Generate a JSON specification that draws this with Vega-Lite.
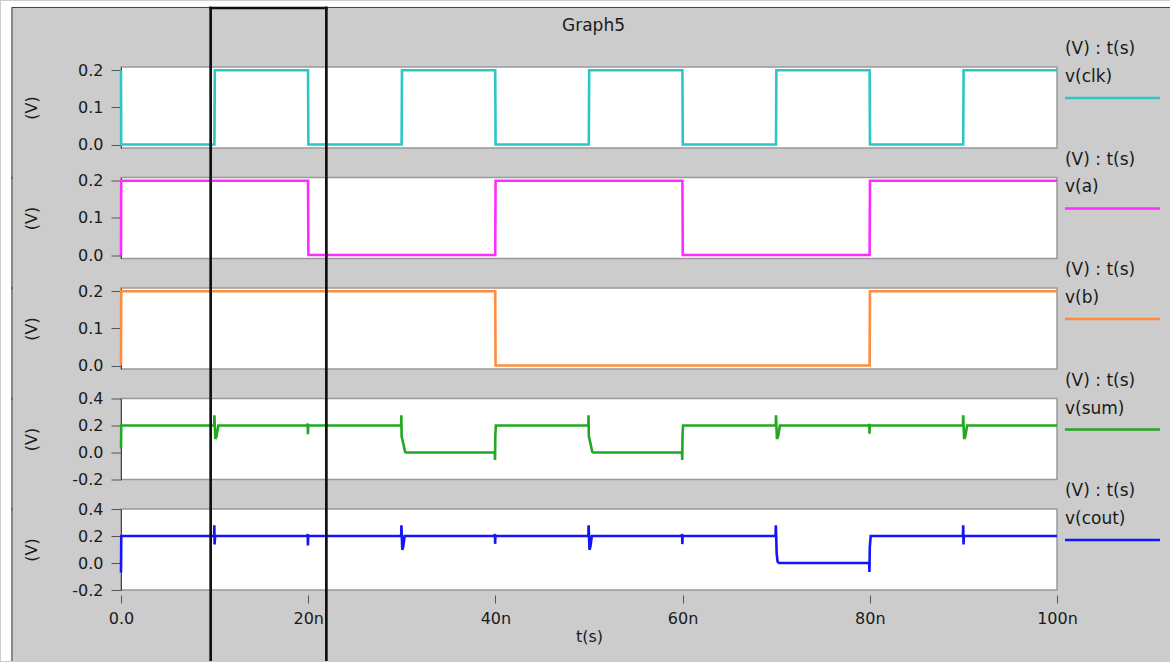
{
  "$schema": "https://vega.github.io/schema/vega-lite/v6.json",
  "background": "#cccccc",
  "padding": 0,
  "spacing": 29.5,
  "bounds": "flush",
  "datasets": {
    "sig": [
      {"s":"clk","t":0,"v":0.2},{"s":"clk","t":0.02,"v":0},{"s":"clk","t":9.98,"v":0},{"s":"clk","t":10.02,"v":0.2},{"s":"clk","t":19.98,"v":0.2},{"s":"clk","t":20.02,"v":0},{"s":"clk","t":29.98,"v":0},{"s":"clk","t":30.02,"v":0.2},{"s":"clk","t":39.98,"v":0.2},{"s":"clk","t":40.02,"v":0},{"s":"clk","t":49.98,"v":0},{"s":"clk","t":50.02,"v":0.2},{"s":"clk","t":59.98,"v":0.2},{"s":"clk","t":60.02,"v":0},{"s":"clk","t":69.98,"v":0},{"s":"clk","t":70.02,"v":0.2},{"s":"clk","t":79.98,"v":0.2},{"s":"clk","t":80.02,"v":0},{"s":"clk","t":89.98,"v":0},{"s":"clk","t":90.02,"v":0.2},{"s":"clk","t":100,"v":0.2},
      {"s":"a","t":0,"v":0},{"s":"a","t":0.02,"v":0.2},{"s":"a","t":19.98,"v":0.2},{"s":"a","t":20.02,"v":0},{"s":"a","t":39.98,"v":0},{"s":"a","t":40.02,"v":0.2},{"s":"a","t":59.98,"v":0.2},{"s":"a","t":60.02,"v":0},{"s":"a","t":79.98,"v":0},{"s":"a","t":80.02,"v":0.2},{"s":"a","t":100,"v":0.2},
      {"s":"b","t":0,"v":0},{"s":"b","t":0.02,"v":0.2},{"s":"b","t":39.98,"v":0.2},{"s":"b","t":40.02,"v":0},{"s":"b","t":79.98,"v":0},{"s":"b","t":80.02,"v":0.2},{"s":"b","t":100,"v":0.2},
      {"s":"sum","t":0,"v":0.03},{"s":"sum","t":0.03,"v":0.2},
      {"s":"sum","t":9.95,"v":0.2},{"s":"sum","t":9.98,"v":0.275},{"s":"sum","t":10.02,"v":0.2},{"s":"sum","t":10.08,"v":0.1},{"s":"sum","t":10.2,"v":0.12},{"s":"sum","t":10.4,"v":0.2},
      {"s":"sum","t":19.93,"v":0.2},{"s":"sum","t":19.95,"v":0.215},{"s":"sum","t":19.97,"v":0.135},{"s":"sum","t":20.0,"v":0.2},
      {"s":"sum","t":29.93,"v":0.2},{"s":"sum","t":29.95,"v":0.276},{"s":"sum","t":29.98,"v":0.12},{"s":"sum","t":30.05,"v":0.1},{"s":"sum","t":30.35,"v":0.005},{"s":"sum","t":30.45,"v":0},
      {"s":"sum","t":39.93,"v":0},{"s":"sum","t":39.96,"v":-0.056},{"s":"sum","t":39.99,"v":0.12},{"s":"sum","t":40.05,"v":0.2},
      {"s":"sum","t":49.93,"v":0.2},{"s":"sum","t":49.95,"v":0.276},{"s":"sum","t":49.98,"v":0.12},{"s":"sum","t":50.05,"v":0.1},{"s":"sum","t":50.35,"v":0.005},{"s":"sum","t":50.45,"v":0},
      {"s":"sum","t":59.93,"v":0},{"s":"sum","t":59.96,"v":-0.056},{"s":"sum","t":59.99,"v":0.12},{"s":"sum","t":60.05,"v":0.2},
      {"s":"sum","t":69.95,"v":0.2},{"s":"sum","t":69.98,"v":0.276},{"s":"sum","t":70.02,"v":0.2},{"s":"sum","t":70.08,"v":0.1},{"s":"sum","t":70.2,"v":0.12},{"s":"sum","t":70.4,"v":0.2},
      {"s":"sum","t":79.93,"v":0.2},{"s":"sum","t":79.95,"v":0.212},{"s":"sum","t":79.97,"v":0.14},{"s":"sum","t":80.0,"v":0.2},
      {"s":"sum","t":89.95,"v":0.2},{"s":"sum","t":89.98,"v":0.276},{"s":"sum","t":90.02,"v":0.2},{"s":"sum","t":90.08,"v":0.1},{"s":"sum","t":90.2,"v":0.12},{"s":"sum","t":90.4,"v":0.2},
      {"s":"sum","t":100,"v":0.2},
      {"s":"cout","t":0,"v":-0.07},{"s":"cout","t":0.03,"v":0.2},
      {"s":"cout","t":9.95,"v":0.2},{"s":"cout","t":9.97,"v":0.28},{"s":"cout","t":10.0,"v":0.137},{"s":"cout","t":10.05,"v":0.2},
      {"s":"cout","t":19.93,"v":0.2},{"s":"cout","t":19.95,"v":0.215},{"s":"cout","t":19.97,"v":0.13},{"s":"cout","t":20.0,"v":0.2},
      {"s":"cout","t":29.93,"v":0.2},{"s":"cout","t":29.96,"v":0.28},{"s":"cout","t":30.0,"v":0.2},{"s":"cout","t":30.05,"v":0.098},{"s":"cout","t":30.15,"v":0.12},{"s":"cout","t":30.3,"v":0.2},
      {"s":"cout","t":39.93,"v":0.2},{"s":"cout","t":39.95,"v":0.215},{"s":"cout","t":39.97,"v":0.142},{"s":"cout","t":40.0,"v":0.2},
      {"s":"cout","t":49.93,"v":0.2},{"s":"cout","t":49.96,"v":0.28},{"s":"cout","t":50.0,"v":0.2},{"s":"cout","t":50.05,"v":0.098},{"s":"cout","t":50.15,"v":0.12},{"s":"cout","t":50.3,"v":0.2},
      {"s":"cout","t":59.93,"v":0.2},{"s":"cout","t":59.95,"v":0.215},{"s":"cout","t":59.97,"v":0.14},{"s":"cout","t":60.0,"v":0.2},
      {"s":"cout","t":69.93,"v":0.2},{"s":"cout","t":69.96,"v":0.28},{"s":"cout","t":70.0,"v":0.2},{"s":"cout","t":70.05,"v":0.07},{"s":"cout","t":70.15,"v":0.01},{"s":"cout","t":70.3,"v":0},
      {"s":"cout","t":79.93,"v":0},{"s":"cout","t":79.96,"v":-0.066},{"s":"cout","t":80.0,"v":0.12},{"s":"cout","t":80.1,"v":0.2},
      {"s":"cout","t":89.95,"v":0.2},{"s":"cout","t":89.98,"v":0.28},{"s":"cout","t":90.01,"v":0.137},{"s":"cout","t":90.05,"v":0.2},
      {"s":"cout","t":100,"v":0.2}
    ],
    "cur": [{"t":9.58},{"t":21.94}]
  },
  "vconcat": [
    {
      "width": 936, "height": 81,
      "resolve": {"axis": {"x": "independent", "y": "independent"}},
      "layer": [
        {"data":{"name":"sig"},"transform":[{"filter":"datum.s==='clk'"}],
         "mark":{"type":"line","color":"#2cc6c6","strokeWidth":2.6},
         "encoding":{"x":{"field":"t","type":"quantitative","scale":{"domain":[0,100],"nice":false,"zero":false},"axis":null},
                     "y":{"field":"v","type":"quantitative","scale":{"domain":[-0.0094,0.2089],"nice":false,"zero":false},"axis":{"values":[0,0.1,0.2],"title":"(V)","labelExpr":"replace(format(datum.value,'.1f'),'\u2212','-')"}}}},
        {"data":{"values":[{}]},"mark":{"type":"text","align":"left","baseline":"middle"},
         "encoding":{"x":{"datum":100.85,"type":"quantitative","axis":null},"y":{"datum":0.2574,"type":"quantitative","axis":null},"text":{"value":"(V) : t(s)"}}},
        {"data":{"values":[{}]},"mark":{"type":"text","align":"left","baseline":"middle"},
         "encoding":{"x":{"datum":100.85,"type":"quantitative","axis":null},"y":{"datum":0.182,"type":"quantitative","axis":null},"text":{"value":"v(clk)"}}},
        {"data":{"values":[{}]},"mark":{"type":"rule","color":"#2cc6c6","strokeWidth":2.5},
         "encoding":{"x":{"datum":100.85,"type":"quantitative","axis":null},"x2":{"datum":111.0},"y":{"datum":0.1253,"type":"quantitative","axis":null}}},
        {"data":{"values":[{}]},"mark":{"type":"rect","color":"white"},
         "encoding":{"x":{"datum":-12.82,"type":"quantitative","axis":null},"x2":{"datum":-11.76},"y":{"datum":0.3868,"type":"quantitative","axis":null},"y2":{"datum":-0.093}}},
        {"data":{"values":[{}]},"mark":{"type":"rect","color":"white"},
         "encoding":{"x":{"datum":-12.82,"type":"quantitative","axis":null},"x2":{"datum":112.15},"y":{"datum":0.3868,"type":"quantitative","axis":null},"y2":{"datum":0.3707}}},
        {"data":{"values":[{}]},"mark":{"type":"rule","color":"#444444","strokeWidth":1},
         "encoding":{"x":{"datum":-11.645,"type":"quantitative","axis":null},"y":{"datum":0.3693,"type":"quantitative","axis":null},"y2":{"datum":-0.093}}},
        {"data":{"values":[{}]},"mark":{"type":"rule","color":"#444444","strokeWidth":1},
         "encoding":{"x":{"datum":-11.645,"type":"quantitative","axis":null},"x2":{"datum":112.1},"y":{"datum":0.3693,"type":"quantitative","axis":null}}},
        {"data":{"values":[{}]},"mark":{"type":"text","align":"center","baseline":"middle"},
         "encoding":{"x":{"datum":50.48,"type":"quantitative","axis":null},"y":{"datum":0.3186,"type":"quantitative","axis":null},"text":{"value":"Graph5"}}},
        {"data":{"name":"cur"},"mark":{"type":"rule","color":"#111111","strokeWidth":2.7,"strokeCap":"square"},
         "encoding":{"x":{"field":"t","type":"quantitative","axis":null},"y":{"datum":0.3679,"type":"quantitative","axis":null},"y2":{"datum":-0.093}}},
        {"data":{"values":[{}]},"mark":{"type":"rule","color":"#111111","strokeWidth":2.7,"strokeCap":"square"},
         "encoding":{"x":{"datum":9.58,"type":"quantitative","axis":null},"x2":{"datum":21.94},"y":{"datum":0.3679,"type":"quantitative","axis":null}}}
      ]
    },
    {
      "width": 936, "height": 81,
      "resolve": {"axis": {"x": "independent", "y": "independent"}},
      "layer": [
        {"data":{"name":"sig"},"transform":[{"filter":"datum.s==='a'"}],
         "mark":{"type":"line","color":"#ff2cff","strokeWidth":2.6},
         "encoding":{"x":{"field":"t","type":"quantitative","scale":{"domain":[0,100],"nice":false,"zero":false},"axis":null},
                     "y":{"field":"v","type":"quantitative","scale":{"domain":[-0.0094,0.2089],"nice":false,"zero":false},"axis":{"values":[0,0.1,0.2],"title":"(V)","labelExpr":"replace(format(datum.value,'.1f'),'\u2212','-')"}}}},
        {"data":{"values":[{}]},"mark":{"type":"text","align":"left","baseline":"middle"},
         "encoding":{"x":{"datum":100.85,"type":"quantitative","axis":null},"y":{"datum":0.2574,"type":"quantitative","axis":null},"text":{"value":"(V) : t(s)"}}},
        {"data":{"values":[{}]},"mark":{"type":"text","align":"left","baseline":"middle"},
         "encoding":{"x":{"datum":100.85,"type":"quantitative","axis":null},"y":{"datum":0.182,"type":"quantitative","axis":null},"text":{"value":"v(a)"}}},
        {"data":{"values":[{}]},"mark":{"type":"rule","color":"#ff2cff","strokeWidth":2.5},
         "encoding":{"x":{"datum":100.85,"type":"quantitative","axis":null},"x2":{"datum":111.0},"y":{"datum":0.1253,"type":"quantitative","axis":null}}},
        {"data":{"values":[{}]},"mark":{"type":"rect","color":"white"},
         "encoding":{"x":{"datum":-12.82,"type":"quantitative","axis":null},"x2":{"datum":-11.76},"y":{"datum":0.2116,"type":"quantitative","axis":null},"y2":{"datum":-0.093}}},
        {"data":{"values":[{}]},"mark":{"type":"rule","color":"#444444","strokeWidth":1},
         "encoding":{"x":{"datum":-11.645,"type":"quantitative","axis":null},"y":{"datum":0.2116,"type":"quantitative","axis":null},"y2":{"datum":-0.093}}},
        {"data":{"name":"cur"},"mark":{"type":"rule","color":"#111111","strokeWidth":2.7},
         "encoding":{"x":{"field":"t","type":"quantitative","axis":null},"y":{"datum":0.2116,"type":"quantitative","axis":null},"y2":{"datum":-0.093}}}
      ]
    },
    {
      "width": 936, "height": 81,
      "resolve": {"axis": {"x": "independent", "y": "independent"}},
      "layer": [
        {"data":{"name":"sig"},"transform":[{"filter":"datum.s==='b'"}],
         "mark":{"type":"line","color":"#ff8c3c","strokeWidth":2.6},
         "encoding":{"x":{"field":"t","type":"quantitative","scale":{"domain":[0,100],"nice":false,"zero":false},"axis":null},
                     "y":{"field":"v","type":"quantitative","scale":{"domain":[-0.0094,0.2089],"nice":false,"zero":false},"axis":{"values":[0,0.1,0.2],"title":"(V)","labelExpr":"replace(format(datum.value,'.1f'),'\u2212','-')"}}}},
        {"data":{"values":[{}]},"mark":{"type":"text","align":"left","baseline":"middle"},
         "encoding":{"x":{"datum":100.85,"type":"quantitative","axis":null},"y":{"datum":0.2574,"type":"quantitative","axis":null},"text":{"value":"(V) : t(s)"}}},
        {"data":{"values":[{}]},"mark":{"type":"text","align":"left","baseline":"middle"},
         "encoding":{"x":{"datum":100.85,"type":"quantitative","axis":null},"y":{"datum":0.182,"type":"quantitative","axis":null},"text":{"value":"v(b)"}}},
        {"data":{"values":[{}]},"mark":{"type":"rule","color":"#ff8c3c","strokeWidth":2.5},
         "encoding":{"x":{"datum":100.85,"type":"quantitative","axis":null},"x2":{"datum":111.0},"y":{"datum":0.1253,"type":"quantitative","axis":null}}},
        {"data":{"values":[{}]},"mark":{"type":"rect","color":"white"},
         "encoding":{"x":{"datum":-12.82,"type":"quantitative","axis":null},"x2":{"datum":-11.76},"y":{"datum":0.2116,"type":"quantitative","axis":null},"y2":{"datum":-0.093}}},
        {"data":{"values":[{}]},"mark":{"type":"rule","color":"#444444","strokeWidth":1},
         "encoding":{"x":{"datum":-11.645,"type":"quantitative","axis":null},"y":{"datum":0.2116,"type":"quantitative","axis":null},"y2":{"datum":-0.093}}},
        {"data":{"name":"cur"},"mark":{"type":"rule","color":"#111111","strokeWidth":2.7},
         "encoding":{"x":{"field":"t","type":"quantitative","axis":null},"y":{"datum":0.2116,"type":"quantitative","axis":null},"y2":{"datum":-0.093}}}
      ]
    },
    {
      "width": 936, "height": 81,
      "resolve": {"axis": {"x": "independent", "y": "independent"}},
      "layer": [
        {"data":{"name":"sig"},"transform":[{"filter":"datum.s==='sum'"}],
         "mark":{"type":"line","color":"#22a822","strokeWidth":2.6},
         "encoding":{"x":{"field":"t","type":"quantitative","scale":{"domain":[0,100],"nice":false,"zero":false},"axis":null},
                     "y":{"field":"v","type":"quantitative","scale":{"domain":[-0.2,0.4],"nice":false,"zero":false},"axis":{"values":[-0.2,0,0.2,0.4],"title":"(V)","labelExpr":"replace(format(datum.value,'.1f'),'\u2212','-')"}}}},
        {"data":{"values":[{}]},"mark":{"type":"text","align":"left","baseline":"middle"},
         "encoding":{"x":{"datum":100.85,"type":"quantitative","axis":null},"y":{"datum":0.5333,"type":"quantitative","axis":null},"text":{"value":"(V) : t(s)"}}},
        {"data":{"values":[{}]},"mark":{"type":"text","align":"left","baseline":"middle"},
         "encoding":{"x":{"datum":100.85,"type":"quantitative","axis":null},"y":{"datum":0.3259,"type":"quantitative","axis":null},"text":{"value":"v(sum)"}}},
        {"data":{"values":[{}]},"mark":{"type":"rule","color":"#22a822","strokeWidth":2.5},
         "encoding":{"x":{"datum":100.85,"type":"quantitative","axis":null},"x2":{"datum":111.0},"y":{"datum":0.1704,"type":"quantitative","axis":null}}},
        {"data":{"values":[{}]},"mark":{"type":"rect","color":"white"},
         "encoding":{"x":{"datum":-12.82,"type":"quantitative","axis":null},"x2":{"datum":-11.76},"y":{"datum":0.4074,"type":"quantitative","axis":null},"y2":{"datum":-0.4296}}},
        {"data":{"values":[{}]},"mark":{"type":"rule","color":"#444444","strokeWidth":1},
         "encoding":{"x":{"datum":-11.645,"type":"quantitative","axis":null},"y":{"datum":0.4074,"type":"quantitative","axis":null},"y2":{"datum":-0.4296}}},
        {"data":{"name":"cur"},"mark":{"type":"rule","color":"#111111","strokeWidth":2.7},
         "encoding":{"x":{"field":"t","type":"quantitative","axis":null},"y":{"datum":0.4074,"type":"quantitative","axis":null},"y2":{"datum":-0.4296}}}
      ]
    },
    {
      "width": 936, "height": 81,
      "resolve": {"axis": {"x": "independent", "y": "independent"}},
      "layer": [
        {"data":{"name":"sig"},"transform":[{"filter":"datum.s==='cout'"}],
         "mark":{"type":"line","color":"#1414ff","strokeWidth":2.6},
         "encoding":{"x":{"field":"t","type":"quantitative","scale":{"domain":[0,100],"nice":false,"zero":false},"axis":{"values":[0,20,40,60,80,100],"title":"t(s)","labelExpr":"datum.value === 0 ? '0.0' : datum.value + 'n'"}},
                     "y":{"field":"v","type":"quantitative","scale":{"domain":[-0.2,0.4],"nice":false,"zero":false},"axis":{"values":[-0.2,0,0.2,0.4],"title":"(V)","labelExpr":"replace(format(datum.value,'.1f'),'\u2212','-')"}}}},
        {"data":{"values":[{}]},"mark":{"type":"text","align":"left","baseline":"middle"},
         "encoding":{"x":{"datum":100.85,"type":"quantitative","axis":null},"y":{"datum":0.5333,"type":"quantitative","axis":null},"text":{"value":"(V) : t(s)"}}},
        {"data":{"values":[{}]},"mark":{"type":"text","align":"left","baseline":"middle"},
         "encoding":{"x":{"datum":100.85,"type":"quantitative","axis":null},"y":{"datum":0.3259,"type":"quantitative","axis":null},"text":{"value":"v(cout)"}}},
        {"data":{"values":[{}]},"mark":{"type":"rule","color":"#1414ff","strokeWidth":2.5},
         "encoding":{"x":{"datum":100.85,"type":"quantitative","axis":null},"x2":{"datum":111.0},"y":{"datum":0.1704,"type":"quantitative","axis":null}}},
        {"data":{"values":[{}]},"mark":{"type":"rect","color":"white"},
         "encoding":{"x":{"datum":-12.82,"type":"quantitative","axis":null},"x2":{"datum":-11.76},"y":{"datum":0.4074,"type":"quantitative","axis":null},"y2":{"datum":-0.7259}}},
        {"data":{"values":[{}]},"mark":{"type":"rule","color":"#444444","strokeWidth":1},
         "encoding":{"x":{"datum":-11.645,"type":"quantitative","axis":null},"y":{"datum":0.4074,"type":"quantitative","axis":null},"y2":{"datum":-0.7259}}},
        {"data":{"name":"cur"},"mark":{"type":"rule","color":"#111111","strokeWidth":2.7},
         "encoding":{"x":{"field":"t","type":"quantitative","axis":null},"y":{"datum":0.4074,"type":"quantitative","axis":null},"y2":{"datum":-0.7259}}}
      ]
    }
  ],
  "config": {
    "view": {"fill": "white", "stroke": "#999999", "strokeWidth": 1.5},
    "axis": {"labelFont": "DejaVu Sans", "labelFontSize": 16, "labelColor": "#1a1a1a", "labelFlush": false, "labelOverlap": false, "titleFont": "DejaVu Sans", "titleFontSize": 16, "titleFontWeight": "normal", "titleColor": "#1a1a1a", "tickColor": "#555555", "domainColor": "#444444", "grid": false},
    "axisY": {"tickSize": 10, "labelPadding": 8, "titleAngle": 270, "titleX": -90, "titleY": 40.5, "titleAlign": "center", "titleBaseline": "middle"},
    "axisX": {"offset": 5, "tickSize": 8, "domain": false, "labelPadding": 7, "titlePadding": 2},
    "text": {"font": "DejaVu Sans", "fontSize": 17, "color": "#1a1a1a"}
  }
}
